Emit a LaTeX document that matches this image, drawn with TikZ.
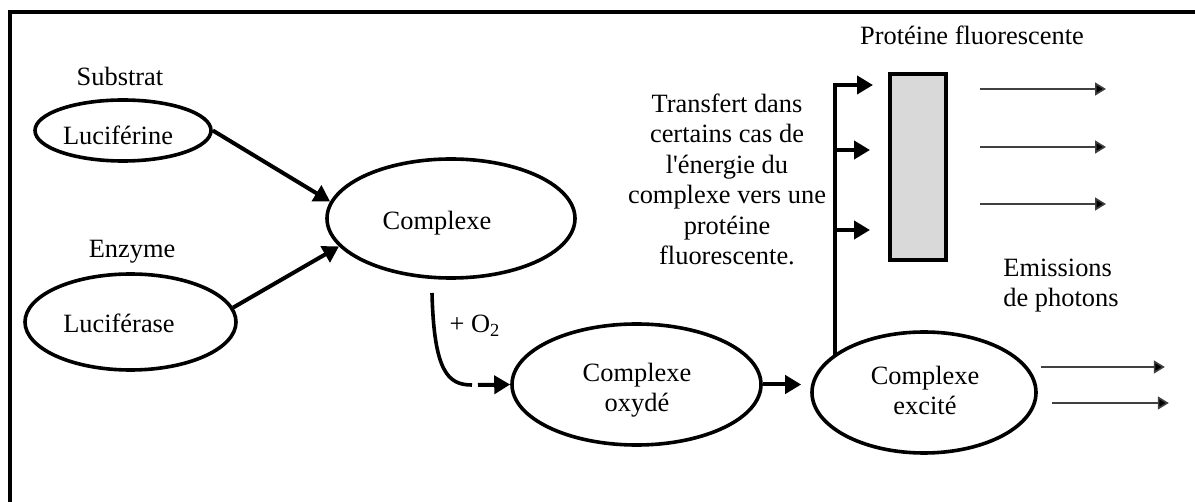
\documentclass[tikz,border=0pt]{standalone}
\usepackage{fontspec}
\setmainfont{Liberation Serif}
\usetikzlibrary{arrows.meta,shapes.geometric}
\definecolor{protgray}{HTML}{D9D9D9}
\definecolor{photongray}{HTML}{404040}

\begin{document}
\begin{tikzpicture}[x=0.5pt,y=-0.5pt,font=\fontsize{13.2}{15.3}\selectfont,
  blob/.style={draw,ellipse,line width=1.8pt,inner sep=0pt},
  txt/.style={anchor=base,inner sep=0pt},
  bigarrow/.style={line width=2pt,-{Triangle[length=8pt,width=9pt]}},
  photon/.style={line width=0.8pt,draw=photongray,-{Triangle[length=5.5pt,width=6.5pt,fill=black]}}]
  \useasboundingbox (0,0) rectangle (1195,502);
  \draw[line width=2.25pt] (1220,12) -- (10,12) -- (10,530);
  % substrate, enzyme and complex
  \node[blob,minimum width=88pt,minimum height=30.5pt] (lucine) at (123,130.5) {};
  \node[blob,minimum width=105.5pt,minimum height=48pt] (lucase) at (130.5,322) {};
  \node[blob,minimum width=124pt,minimum height=59.5pt] (cplx) at (451,218.5) {};
  \node[blob,minimum width=124.5pt,minimum height=60.5pt] (oxy) at (636.5,384.5) {};
  \node[blob,minimum width=112pt,minimum height=60.5pt] (exc) at (924,392.5) {};
  \node[txt] (substrat) at (120,86) {Substrat};
  \node[txt] (lucinetxt) at (118,145) {Luciférine};
  \node[txt] (enzyme) at (132,258) {Enzyme};
  \node[txt] (lucasetxt) at (119,333) {Luciférase};
  \node[txt] (cplxtxt) at (437,230) {Complexe};
  \node[txt,align=center] (oxytxt) at (637,412) {Complexe\\oxydé};
  \node[txt,align=center] (exctxt) at (925,415) {Complexe\\excité};
  \node[txt] (o2txt) at (475,333) {+ O\textsubscript{2}};
  \draw[bigarrow] (lucine.east) -- (cplx.172);
  \draw[bigarrow] (lucase.8) -- (cplx.194);
  \coordinate (o2a) at (432,293);
  \coordinate (o2b) at (472,385);
  \draw[line width=1.8pt] (o2a) .. controls (434,372) and (448,385) .. (o2b);
  \draw[bigarrow] ([xshift=3pt]o2b) -- (oxy.west);
  \draw[bigarrow] (oxy.east) -- ([xshift=-4.5pt]exc.west |- oxy.east);
  % transfer to the fluorescent protein
  \node[draw,line width=2pt,fill=protgray,minimum width=28pt,minimum height=93pt,inner sep=0pt] (prot) at (918,167) {};
  \node[txt] (prottxt) at (972,45) {Protéine fluorescente};
  \node[txt,align=center] (transfert) at (727,265)
    {Transfert dans\\certains cas de\\l\textquotesingle énergie du\\complexe vers une\\protéine\\fluorescente.};
  \coordinate (trunk) at (835,356);
  \coordinate (toptip) at (873,85);
  \draw[bigarrow] (trunk) |- (toptip);
  \foreach \yy in {150,230}
    \draw[bigarrow] (trunk |- 0,\yy) -- ([xshift=-9pt]prot.west |- 0,\yy);
  % photons
  \foreach \yy in {89,147,204}
    \draw[photon] ([xshift=16pt]prot.east |- 0,\yy) -- ++(126,0);
  \node[txt,anchor=base west,align=left] (emis) at (1003,307) {Emissions\\de photons};
  \draw[photon] ([xshift=1.5pt]exc.east |- 0,367) -- ++(124,0);
  \draw[photon] ([xshift=7pt]exc.east |- 0,403) -- ++(117,0);
\end{tikzpicture}
\end{document}
